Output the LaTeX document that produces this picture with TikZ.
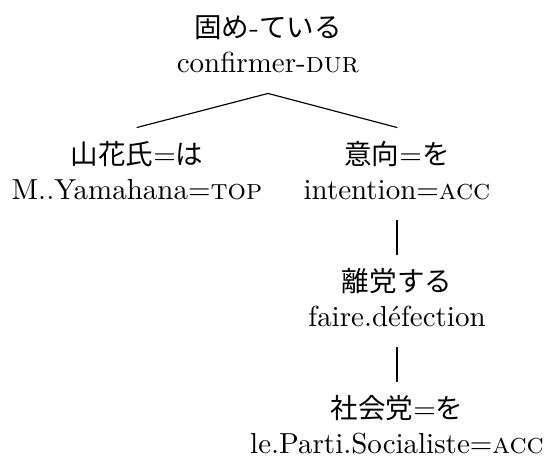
\documentclass[tikz,border=0pt]{standalone}
\usepackage{fontspec}
\newfontfamily\cjk[Scale=0.95]{Noto Sans CJK JP}
\newcommand{\jp}[1]{{\cjk #1}}
\begin{document}
\begin{tikzpicture}[x=0.345pt, y=-0.345pt, font=\normalsize, line join=round, line cap=round]
 \tikzset{jp/.style={anchor=base, inner ysep=0pt, text height=12.4pt},
 gl/.style={anchor=base, inner ysep=0pt, text depth=7.2pt}}
 \useasboundingbox (0,0) rectangle (547,458);
 \def\xl{137} \def\xm{268} \def\xr{397}
 \node[jp] (katame) at (\xm,37) {\jp{固め}-\jp{ている}};
 \node[gl] (katameG) at (\xm,72) {confirmer-\textsc{dur}};
 \node[jp] (yama) at (\xl,164) {\jp{山花氏}=\jp{は}};
 \node[gl] (yamaG) at (\xl,199) {M..Yamahana=\textsc{top}};
 \node[jp] (ikou) at (\xr,164) {\jp{意向}=\jp{を}};
 \node[gl] (ikouG) at (\xr,199) {intention=\textsc{acc}};
 \node[jp] (ritou) at (\xr,291) {\jp{離党する}};
 \node[gl] (ritouG) at (\xr,326) {faire.défection};
 \node[jp] (shakai) at (\xr,418) {\jp{社会党}=\jp{を}};
 \node[gl] (shakaiG) at (\xr,453) {le.Parti.Socialiste=\textsc{acc}};
 \draw (katameG.south)--(yama.north);
 \draw (katameG.south)--(ikou.north);
 \draw (ikouG.south)--(ritou.north);
 \draw (ritouG.south)--(shakai.north);
\end{tikzpicture}
\end{document}
